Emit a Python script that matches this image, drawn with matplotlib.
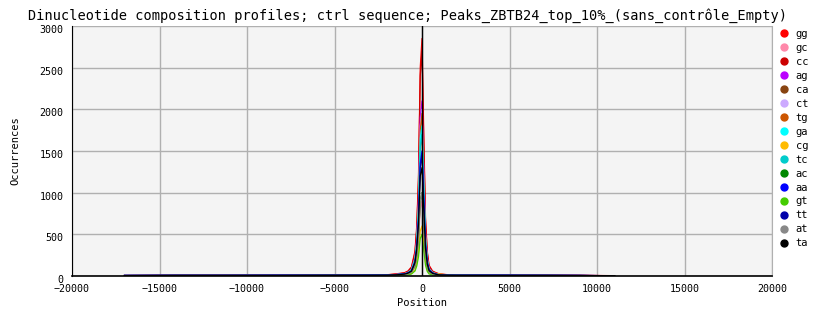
import matplotlib
matplotlib.use('Agg')
import matplotlib.pyplot as plt
import matplotlib.transforms as mtransforms
from matplotlib.lines import Line2D

plt.rcParams['font.family'] = 'DejaVu Sans Mono'

# positions (bp) shared by all profiles
pos = [-17000, -14000, -11000, -8000, -5000, -3000, -2000, -1500, -1000, -800,
       -600, -400, -300, -200, -100, 0, 100, 200, 300, 400,
       600, 800, 1000, 1500, 2000, 4000, 7000, 9000, 11000]

# occurrences per dinucleotide
gg = [6, 9, 8, 10, 9, 12, 15, 25, 40, 60, 110, 300, 600, 1200, 2500, 2850, 1700, 700, 300, 130, 60, 40, 25, 15, 12, 10, 9, 8, 4]
gc = [4, 5, 5, 6, 6, 7, 8, 12, 18, 28, 45, 110, 220, 420, 800, 900, 560, 230, 100, 45, 22, 14, 9, 7, 6, 5, 5, 4, 2]
cc = [5, 8, 9, 8, 10, 11, 14, 22, 35, 55, 100, 280, 560, 1150, 2400, 2700, 1600, 650, 280, 120, 55, 35, 22, 14, 11, 9, 8, 7, 3]
ag = [5, 6, 6, 7, 7, 9, 12, 18, 28, 45, 80, 220, 440, 900, 1900, 2100, 1250, 500, 220, 95, 45, 28, 18, 11, 9, 7, 6, 5, 3]
ca = [5, 6, 7, 6, 8, 9, 11, 16, 25, 40, 70, 190, 380, 780, 1550, 1700, 1050, 420, 180, 80, 38, 24, 15, 10, 8, 7, 6, 5, 3]
ct = [5, 6, 6, 7, 7, 9, 11, 17, 27, 42, 78, 210, 420, 860, 1800, 2000, 1200, 480, 210, 90, 42, 26, 17, 11, 9, 7, 6, 5, 3]
tg = [5, 6, 6, 7, 8, 9, 11, 17, 27, 42, 76, 205, 410, 840, 1750, 1950, 1150, 470, 200, 88, 42, 26, 17, 11, 8, 7, 6, 5, 3]
ga = [5, 6, 6, 7, 7, 8, 10, 16, 25, 40, 72, 195, 390, 800, 1650, 1800, 1100, 440, 190, 84, 40, 25, 16, 10, 8, 7, 6, 5, 3]
cg = [2, 3, 3, 3, 4, 4, 5, 8, 12, 18, 30, 75, 150, 280, 540, 600, 380, 160, 70, 40, 32, 30, 25, 8, 5, 3, 3, 3, 1]
tc = [5, 6, 6, 6, 7, 8, 10, 15, 24, 38, 68, 185, 370, 760, 1550, 1700, 1050, 420, 180, 80, 38, 24, 15, 10, 8, 7, 6, 5, 3]
ac = [4, 5, 5, 5, 6, 6, 7, 10, 16, 25, 45, 120, 240, 460, 900, 1000, 620, 250, 110, 50, 24, 15, 10, 7, 6, 5, 5, 4, 2]
aa = [7, 8, 8, 9, 9, 10, 11, 16, 24, 36, 62, 170, 340, 680, 1350, 1500, 920, 380, 165, 74, 36, 22, 14, 10, 9, 9, 8, 7, 3]
gt = [2, 3, 3, 3, 3, 4, 4, 6, 9, 14, 24, 60, 120, 230, 450, 500, 310, 130, 55, 25, 13, 8, 6, 4, 4, 3, 3, 3, 1]
tt = [7, 8, 8, 9, 9, 10, 11, 16, 23, 35, 60, 165, 330, 660, 1300, 1450, 900, 370, 160, 72, 35, 22, 14, 10, 9, 9, 8, 7, 3]
at = [4, 5, 5, 5, 6, 6, 7, 10, 16, 25, 45, 120, 240, 460, 900, 1000, 620, 250, 110, 50, 24, 15, 10, 7, 6, 5, 5, 4, 2]
ta = [6, 7, 7, 7, 8, 8, 9, 14, 22, 34, 58, 160, 320, 620, 1200, 1300, 800, 330, 145, 65, 32, 20, 13, 9, 8, 7, 7, 6, 3]

labels = ['gg', 'gc', 'cc', 'ag', 'ca', 'ct', 'tg', 'ga', 'cg', 'tc', 'ac', 'aa', 'gt', 'tt', 'at', 'ta']
series = [gg, gc, cc, ag, ca, ct, tg, ga, cg, tc, ac, aa, gt, tt, at, ta]
colors = ['#ff0000', '#ff88aa', '#cc0000', '#bb00ff', '#884411', '#ccaaff', '#cc5500', '#00ffff',
          '#ffbb00', '#00cccc', '#008800', '#0000ff', '#44cc00', '#0000aa', '#888888', '#000000']

fig = plt.figure(figsize=(8.34, 3.28), dpi=100)
ax = fig.add_axes([72 / 834, 1 - 276 / 328, 700 / 834, 250 / 328])
ax.set_facecolor('#f4f4f4')

for vals, col in zip(series, colors):
    ax.plot(pos, vals, color=col, linewidth=0.9)

ax.axvline(0, color='black', linewidth=1)

ax.set_xlim(-20000, 20000)
ax.set_ylim(0, 3000)
ax.set_xticks(range(-20000, 20001, 5000))
ax.set_yticks(range(0, 3001, 500))
ax.grid(color='#b0b0b0', linewidth=1)
ax.set_axisbelow(True)
ax.tick_params(length=0, labelsize=7.2)
ax.tick_params(axis='x', pad=6)
ax.tick_params(axis='y', pad=6)

# y labels sit a few pixels below their gridline
shift = mtransforms.ScaledTranslation(0, -3 / 100, fig.dpi_scale_trans)
for lab in ax.get_yticklabels():
    lab.set_transform(lab.get_transform() + shift)

ax.spines['top'].set_visible(False)
ax.spines['right'].set_color('#b0b0b0')
ax.spines['left'].set_color('black')
ax.spines['bottom'].set_color('black')
ax.spines['bottom'].set_linewidth(1.2)

ax.set_xlabel('Position', fontsize=7.5, labelpad=3)
ax.set_ylabel('Occurrences', fontsize=7.5, labelpad=14)
fig.text(407 / 834, 1 - 16 / 328,
         'Dinucleotide composition profiles; ctrl sequence; Peaks_ZBTB24_top_10%_(sans_contrôle_Empty)',
         ha='center', va='center', fontsize=9.8)

handles = [Line2D([], [], linestyle='none', marker='o', markersize=5, color=c) for c in colors]
fig.legend(handles, labels, loc='upper left', bbox_to_anchor=(779 / 834, 1 - 29 / 328),
           frameon=False, fontsize=7.5, handlelength=1.0, handletextpad=0.6,
           labelspacing=0.38, borderaxespad=0, borderpad=0)

fig.savefig('out.png', dpi=100)
